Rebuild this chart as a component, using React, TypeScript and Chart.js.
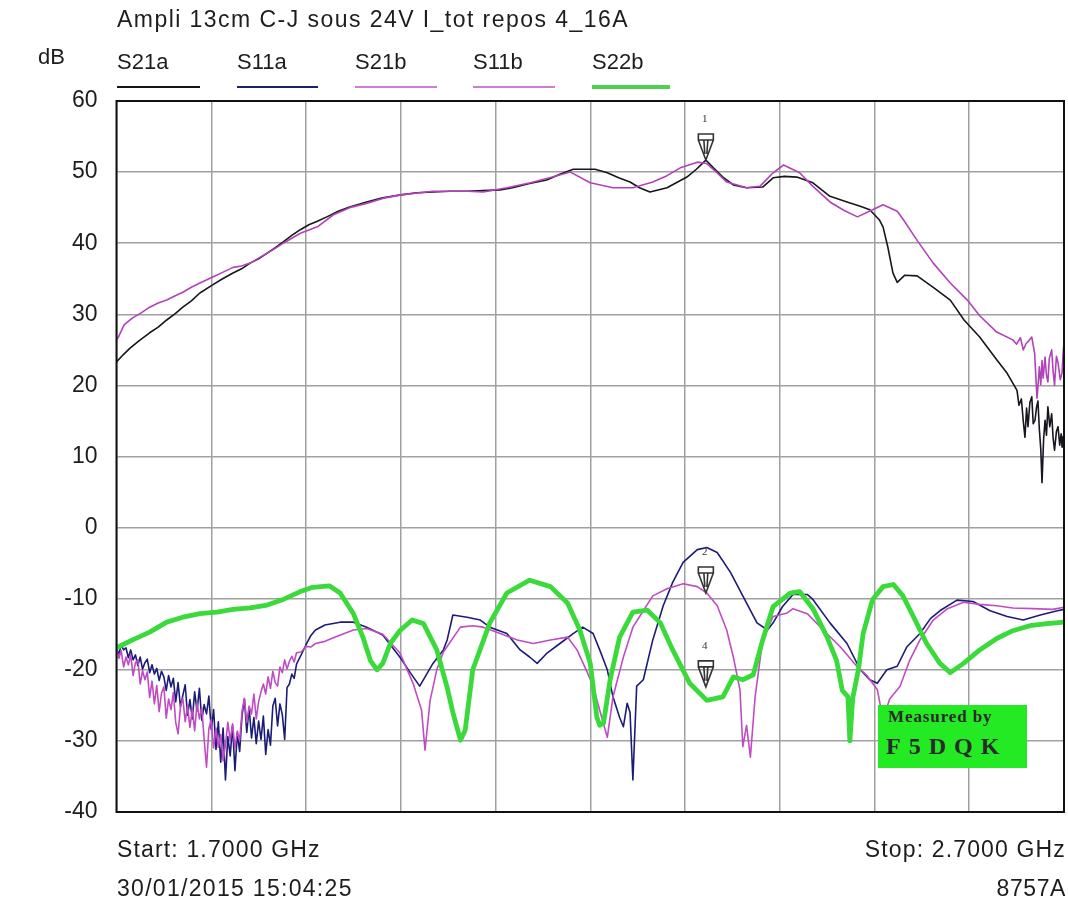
import React, { useEffect, useRef } from "react";
import { Chart, registerables } from "chart.js";
Chart.register(...registerables);

const titleText = "Ampli 13cm C-J sous 24V I_tot repos 4_16A";
const yUnit = "dB";
const seriesNames = ["S21a", "S11a", "S21b", "S11b", "S22b"];
const seriesColors = ["#16161e", "#1c1c78", "#b242ba", "#c04cc4", "#3ada3a"];
const legendColors = ["#161616", "#1f1f72", "#cf7fd3", "#cf7fd3", "#4fcf4f"];
const seriesWidths = [1.6, 1.6, 1.6, 1.6, 4.8];
const xMin = 1.7;
const xMax = 2.7;
const xStep = 0.1;
const yMin = -40;
const yMax = 60;
const yStep = 10;
const startLabel = "Start: 1.7000 GHz";
const stopLabel = "Stop: 2.7000 GHz";
const dateLabel = "30/01/2015 15:04:25";
const modelLabel = "8757A";
const stampLine1 = "Measured by";
const stampLine2 = "F5DQK";

const markerFreq = 2.322;
const markerValues = [51.7, -9.2, -22.4];
const markerLabels = ["1", "2", "4"];

// S21a (black, upper)
const s21aFreq = [1.700, 1.707, 1.714, 1.724, 1.735, 1.744, 1.753, 1.762, 1.770, 1.779, 1.788, 1.801, 1.812, 1.823, 1.832, 1.841, 1.850, 1.859, 1.868, 1.876, 1.885, 1.894, 1.903, 1.912, 1.922, 1.934, 1.946, 1.964, 1.981, 2.000, 2.017, 2.034, 2.052, 2.070, 2.087, 2.105, 2.118, 2.136, 2.154, 2.168, 2.182, 2.205, 2.218, 2.230, 2.242, 2.252, 2.263, 2.281, 2.302, 2.312, 2.319, 2.322, 2.330, 2.340, 2.351, 2.365, 2.382, 2.393, 2.405, 2.418, 2.435, 2.453, 2.471, 2.485, 2.495, 2.505, 2.509, 2.514, 2.5195, 2.524, 2.532, 2.545, 2.562, 2.580, 2.5945, 2.611, 2.629, 2.640, 2.6504, 2.6525, 2.6550, 2.6570, 2.6588, 2.6605, 2.6620, 2.6640, 2.6660, 2.6675, 2.6694, 2.6710, 2.6725, 2.6740, 2.6755, 2.6768, 2.6785, 2.6800, 2.6815, 2.6830, 2.6850, 2.6870, 2.6885, 2.6900, 2.6920, 2.6937, 2.6955, 2.6970, 2.6980, 2.6990, 2.7000];
const s21aDb = [23.3, 24.3, 25.2, 26.3, 27.4, 28.2, 29.2, 30.1, 31.0, 31.9, 33.0, 34.1, 35.0, 35.8, 36.4, 37.2, 37.8, 38.6, 39.4, 40.2, 41.1, 41.9, 42.6, 43.1, 43.7, 44.5, 45.1, 45.8, 46.4, 46.8, 47.1, 47.2, 47.3, 47.3, 47.4, 47.5, 47.8, 48.4, 48.9, 49.7, 50.4, 50.4, 49.9, 49.2, 48.6, 47.8, 47.2, 47.8, 49.3, 50.4, 51.3, 51.7, 50.6, 49.3, 48.2, 47.8, 47.9, 49.2, 49.4, 49.3, 48.5, 46.6, 45.8, 45.2, 44.7, 43.3, 42.3, 39.5, 35.8, 34.5, 35.5, 35.4, 33.8, 32.0, 29.2, 26.8, 23.6, 21.7, 19.3, 17.2, 18.1, 15.0, 12.7, 16.8, 14.2, 17.6, 18.4, 14.6, 15.1, 16.9, 17.8, 13.8, 11.0, 6.3, 12.5, 15.1, 13.0, 17.0, 14.2, 16.0, 12.6, 10.9, 13.5, 14.2, 11.6, 13.2, 11.3, 12.8, 13.0];

// S11a (navy, lower)
const s11aFreq = [1.7000, 1.7025, 1.7050, 1.7075, 1.7100, 1.7125, 1.7150, 1.7175, 1.7200, 1.7225, 1.7250, 1.7275, 1.7300, 1.7325, 1.7350, 1.7375, 1.7400, 1.7425, 1.7450, 1.7475, 1.7500, 1.7525, 1.7550, 1.7575, 1.7600, 1.7625, 1.7650, 1.7675, 1.7700, 1.7725, 1.7750, 1.7775, 1.7800, 1.7825, 1.7850, 1.7875, 1.7900, 1.7925, 1.7950, 1.7975, 1.8000, 1.8025, 1.8050, 1.8075, 1.8100, 1.8125, 1.8150, 1.8175, 1.8200, 1.8225, 1.8250, 1.8275, 1.8300, 1.8325, 1.8350, 1.8375, 1.8400, 1.8425, 1.8450, 1.8475, 1.8500, 1.8525, 1.8550, 1.8575, 1.8600, 1.8625, 1.8650, 1.8675, 1.8700, 1.8725, 1.8750, 1.8775, 1.8800, 1.8825, 1.8850, 1.8875, 1.8900, 1.896, 1.900, 1.905, 1.910, 1.920, 1.936, 1.950, 1.964, 1.981, 1.999, 2.010, 2.020, 2.034, 2.045, 2.049, 2.055, 2.070, 2.084, 2.094, 2.112, 2.126, 2.136, 2.144, 2.154, 2.168, 2.182, 2.192, 2.203, 2.210, 2.218, 2.224, 2.231, 2.235, 2.239, 2.242, 2.245, 2.249, 2.256, 2.266, 2.277, 2.287, 2.298, 2.313, 2.323, 2.334, 2.348, 2.361, 2.376, 2.387, 2.393, 2.403, 2.414, 2.429, 2.435, 2.453, 2.471, 2.485, 2.495, 2.503, 2.513, 2.524, 2.534, 2.548, 2.559, 2.569, 2.587, 2.604, 2.622, 2.640, 2.657, 2.675, 2.693, 2.700];
const s11aDb = [-17.0, -17.8, -16.5, -17.2, -16.9, -18.3, -17.2, -18.6, -17.9, -19.4, -18.2, -19.9, -19.0, -18.5, -20.4, -19.3, -20.6, -19.8, -21.5, -20.2, -21.0, -22.9, -20.8, -22.4, -21.2, -24.5, -21.8, -25.2, -23.6, -22.1, -26.4, -24.2, -26.9, -23.1, -25.8, -22.6, -27.1, -24.9, -26.2, -23.7, -28.4, -25.6, -31.2, -27.3, -33.0, -28.2, -35.5, -29.4, -32.1, -27.8, -34.2, -29.0, -31.5, -26.4, -24.1, -28.8, -25.3, -29.6, -26.7, -30.4, -27.2, -29.8, -26.5, -31.9, -28.4, -30.6, -25.1, -24.0, -27.9, -24.8, -26.3, -29.8, -22.5, -22.0, -20.6, -21.2, -19.2, -17.6, -16.5, -15.2, -14.4, -13.7, -13.3, -13.3, -14.0, -15.1, -18.2, -20.4, -22.3, -19.1, -17.2, -15.8, -12.3, -12.6, -13.0, -14.0, -14.9, -17.2, -18.2, -19.1, -17.7, -16.3, -14.9, -14.0, -14.9, -17.2, -20.0, -23.8, -26.7, -28.0, -24.7, -26.0, -35.5, -22.3, -21.4, -15.8, -11.0, -7.7, -4.9, -3.1, -2.8, -3.5, -6.3, -9.6, -13.4, -14.4, -13.4, -11.1, -9.4, -9.4, -10.1, -13.4, -16.3, -20.0, -21.4, -21.9, -20.0, -19.5, -16.8, -14.9, -12.8, -11.7, -10.2, -10.4, -11.7, -12.5, -13.0, -12.3, -11.7, -11.5];

// S21b (magenta, upper)
const s21bFreq = [1.700, 1.702, 1.708, 1.717, 1.726, 1.735, 1.744, 1.753, 1.762, 1.770, 1.779, 1.788, 1.801, 1.812, 1.823, 1.832, 1.841, 1.850, 1.859, 1.868, 1.876, 1.885, 1.894, 1.912, 1.929, 1.946, 1.964, 1.981, 2.000, 2.034, 2.070, 2.087, 2.112, 2.137, 2.160, 2.179, 2.200, 2.224, 2.245, 2.266, 2.281, 2.295, 2.313, 2.323, 2.334, 2.344, 2.365, 2.379, 2.393, 2.404, 2.421, 2.435, 2.453, 2.468, 2.482, 2.498, 2.509, 2.524, 2.530, 2.545, 2.562, 2.580, 2.598, 2.611, 2.629, 2.646, 2.650, 2.654, 2.657, 2.660, 2.663, 2.666, 2.669, 2.6715, 2.6725, 2.674, 2.6755, 2.6768, 2.678, 2.680, 2.6815, 2.683, 2.6845, 2.687, 2.6885, 2.690, 2.692, 2.6937, 2.696, 2.698, 2.699, 2.700];
const s21bDb = [26.4, 26.8, 28.5, 29.5, 30.2, 31.0, 31.6, 32.0, 32.6, 33.1, 33.8, 34.4, 35.2, 35.9, 36.6, 36.8, 37.2, 37.9, 38.6, 39.3, 40.0, 40.7, 41.4, 42.3, 44.0, 45.0, 45.6, 46.3, 46.8, 47.3, 47.3, 47.2, 47.8, 48.5, 49.3, 50.0, 48.5, 47.8, 47.8, 48.6, 49.5, 50.6, 51.4, 51.2, 49.9, 48.6, 47.8, 48.0, 49.9, 51.0, 49.9, 48.0, 45.8, 44.6, 43.7, 44.7, 45.4, 44.5, 43.4, 40.4, 37.2, 34.4, 32.0, 29.8, 27.5, 26.4, 25.8, 26.7, 25.0, 25.9, 26.3, 26.8, 24.5, 18.2, 19.8, 22.6, 20.1, 23.5, 21.0, 24.0, 21.4, 20.5, 23.8, 25.0, 22.0, 20.0, 24.1, 23.2, 20.8, 21.8, 24.5, 26.0];

// S11b (magenta, lower)
const s11bFreq = [1.7000, 1.7025, 1.7050, 1.7075, 1.7100, 1.7125, 1.7150, 1.7175, 1.7200, 1.7225, 1.7250, 1.7275, 1.7300, 1.7325, 1.7350, 1.7375, 1.7400, 1.7425, 1.7450, 1.7475, 1.7500, 1.7525, 1.7550, 1.7575, 1.7600, 1.7625, 1.7650, 1.7675, 1.7700, 1.7725, 1.7750, 1.7775, 1.7800, 1.7825, 1.7850, 1.7875, 1.7900, 1.7925, 1.7950, 1.7975, 1.8000, 1.8025, 1.8050, 1.8075, 1.8100, 1.8125, 1.8150, 1.8175, 1.8200, 1.8225, 1.8250, 1.8275, 1.8300, 1.8325, 1.8350, 1.8375, 1.8400, 1.8425, 1.8450, 1.8475, 1.8500, 1.8525, 1.8550, 1.8575, 1.8600, 1.8625, 1.8650, 1.8675, 1.8700, 1.8725, 1.8750, 1.8775, 1.8800, 1.8825, 1.8850, 1.8875, 1.8900, 1.8950, 1.9000, 1.905, 1.910, 1.920, 1.931, 1.950, 1.964, 1.981, 1.999, 2.013, 2.022, 2.0256, 2.031, 2.038, 2.045, 2.063, 2.076, 2.087, 2.105, 2.123, 2.140, 2.158, 2.176, 2.186, 2.197, 2.203, 2.210, 2.218, 2.224, 2.235, 2.245, 2.256, 2.266, 2.281, 2.298, 2.313, 2.323, 2.334, 2.344, 2.351, 2.358, 2.361, 2.365, 2.369, 2.374, 2.382, 2.393, 2.408, 2.414, 2.429, 2.446, 2.464, 2.482, 2.492, 2.503, 2.509, 2.516, 2.527, 2.537, 2.548, 2.562, 2.577, 2.594, 2.611, 2.629, 2.646, 2.667, 2.688, 2.700];
const s11bDb = [-17.0, -18.4, -17.3, -19.6, -18.2, -19.3, -17.9, -20.8, -19.0, -18.6, -22.0, -20.1, -21.4, -20.3, -23.9, -21.6, -24.8, -22.2, -25.9, -23.3, -22.4, -26.8, -24.1, -25.6, -23.2, -27.4, -29.0, -25.2, -24.0, -27.3, -25.1, -28.1, -25.5, -28.6, -24.6, -26.9, -25.3, -29.7, -33.7, -28.3, -27.0, -31.0, -28.2, -30.9, -29.1, -32.8, -30.6, -27.4, -29.9, -27.6, -31.0, -28.6, -29.9, -25.8, -24.0, -27.4, -25.1, -26.2, -23.4, -26.9, -24.5, -23.1, -22.0, -23.4, -21.0, -22.6, -20.2, -21.8, -22.3, -19.6, -20.4, -18.6, -19.9, -18.8, -18.1, -18.9, -17.6, -17.5, -16.7, -16.8, -16.3, -16.0, -15.4, -14.4, -14.2, -15.0, -17.6, -21.9, -25.7, -31.3, -24.3, -20.0, -17.5, -14.0, -13.8, -14.0, -14.9, -15.8, -16.3, -15.8, -15.4, -17.2, -20.4, -22.3, -25.7, -29.5, -23.8, -18.2, -14.0, -11.7, -9.6, -8.6, -7.9, -8.3, -9.2, -11.0, -14.4, -18.2, -22.8, -30.8, -27.8, -32.3, -23.8, -15.8, -12.5, -12.0, -11.4, -12.1, -14.4, -16.8, -19.6, -20.8, -22.8, -27.0, -24.1, -22.3, -18.7, -15.8, -13.0, -11.4, -10.5, -10.8, -11.0, -11.3, -11.4, -11.5, -11.2];

// S22b (green)
const s22bFreq = [1.700, 1.717, 1.735, 1.753, 1.770, 1.788, 1.806, 1.823, 1.841, 1.859, 1.876, 1.894, 1.907, 1.925, 1.936, 1.950, 1.960, 1.968, 1.975, 1.981, 1.989, 1.999, 2.012, 2.024, 2.038, 2.049, 2.055, 2.063, 2.068, 2.076, 2.094, 2.112, 2.136, 2.158, 2.176, 2.189, 2.200, 2.207, 2.210, 2.214, 2.221, 2.231, 2.245, 2.260, 2.274, 2.287, 2.305, 2.323, 2.340, 2.351, 2.361, 2.372, 2.382, 2.393, 2.411, 2.421, 2.435, 2.450, 2.460, 2.466, 2.472, 2.474, 2.477, 2.483, 2.488, 2.498, 2.509, 2.520, 2.530, 2.541, 2.555, 2.569, 2.580, 2.594, 2.611, 2.629, 2.646, 2.664, 2.682, 2.700];
const s22bDb = [-16.9, -15.8, -14.7, -13.3, -12.6, -12.1, -11.9, -11.5, -11.3, -10.9, -10.1, -9.0, -8.4, -8.2, -9.2, -12.1, -15.4, -18.7, -20.0, -19.1, -16.3, -14.5, -13.0, -13.5, -17.2, -22.5, -26.0, -29.9, -28.5, -20.0, -13.4, -9.2, -7.4, -8.3, -10.6, -14.4, -19.1, -26.7, -27.8, -27.5, -21.4, -15.4, -11.9, -11.6, -13.4, -17.2, -21.9, -24.3, -23.8, -21.0, -21.4, -20.7, -15.8, -11.1, -9.2, -9.0, -11.4, -15.4, -18.7, -22.9, -23.8, -30.0, -24.0, -20.0, -14.9, -10.1, -8.3, -8.0, -9.6, -12.5, -16.3, -19.1, -20.4, -19.1, -17.2, -15.6, -14.5, -13.8, -13.5, -13.3];

const seriesFreqs = [s21aFreq, s11aFreq, s21bFreq, s11bFreq, s22bFreq];
const seriesValues = [s21aDb, s11aDb, s21bDb, s11bDb, s22bDb];
const seriesOrder = [3, 4, 2, 1, 0];

const FONT = '"Liberation Sans", Arial, Helvetica, sans-serif';
const TEXT_SIZE = 23;

const frameAndMarkers = {
  id: "frameAndMarkers",
  afterDatasetsDraw(chart: any) {
    const { ctx, chartArea } = chart;
    const xs = chart.scales.x;
    const ys = chart.scales.y;
    ctx.save();
    ctx.strokeStyle = "#111";
    ctx.lineWidth = 2;
    ctx.strokeRect(chartArea.left, chartArea.top, chartArea.right - chartArea.left, chartArea.bottom - chartArea.top);
    markerValues.forEach((v, i) => {
      const px = xs.getPixelForValue(markerFreq);
      const py = ys.getPixelForValue(v);
      const w = 15;
      const top = py - 26;
      ctx.strokeStyle = "#333";
      ctx.lineWidth = 1.6;
      ctx.beginPath();
      ctx.rect(px - w / 2, top, w, 6);
      ctx.moveTo(px - w / 2, top + 6);
      ctx.lineTo(px, py);
      ctx.lineTo(px + w / 2, top + 6);
      ctx.moveTo(px - 2, top + 6);
      ctx.lineTo(px - 1, py - 6);
      ctx.moveTo(px + 2, top + 6);
      ctx.lineTo(px + 1, py - 6);
      ctx.stroke();
      ctx.fillStyle = "#333";
      ctx.font = '11px "Liberation Serif", serif';
      ctx.textAlign = "center";
      ctx.textBaseline = "middle";
      ctx.fillText(markerLabels[i], px - 1, top - 15);
    });
    ctx.restore();
  },
};

function ChartCanvas() {
  const ref = useRef<HTMLCanvasElement | null>(null);
  useEffect(() => {
    if (!ref.current) return;
    const datasets = seriesNames.map((name, i) => ({
      label: name,
      data: seriesFreqs[i].map((f, j) => ({ x: f, y: seriesValues[i][j] })),
      borderColor: seriesColors[i],
      backgroundColor: seriesColors[i],
      borderWidth: seriesWidths[i],
      pointRadius: 0,
      tension: 0,
      order: seriesOrder[i],
      borderJoinStyle: "round" as const,
    }));
    const grid = { color: "#a0a0a0", lineWidth: 1.5, drawTicks: false };
    const chart = new Chart(ref.current, {
      type: "line",
      data: { datasets },
      options: {
        animation: false,
        responsive: false,
        devicePixelRatio: 1,
        layout: { padding: { top: 101, right: 4, left: 0, bottom: 0 } },
        plugins: { legend: { display: false }, tooltip: { enabled: false }, title: { display: false } },
        scales: {
          x: {
            type: "linear",
            min: xMin,
            max: xMax,
            ticks: { display: false, stepSize: xStep },
            grid,
            border: { display: false },
            afterFit: (axis: any) => {
              axis.height = 90;
            },
          },
          y: {
            type: "linear",
            min: yMin,
            max: yMax,
            ticks: { stepSize: yStep, padding: 19, color: "#1d1d1d", font: { family: FONT, size: TEXT_SIZE } },
            grid,
            border: { display: false },
            afterFit: (axis: any) => {
              axis.width = 116.5;
            },
          },
        },
      },
      plugins: [frameAndMarkers],
    });
    return () => chart.destroy();
  }, []);
  return <canvas ref={ref} width={1068} height={902} style={{ position: "absolute", left: 0, top: 0, width: 1068, height: 902 }} />;
}

const legendX = [117, 237, 355, 473, 592];
const legendLineW = [83, 81, 82, 82, 78];

export default function App() {
  const txt = (content: string, left: number | null, right: number | null, cy: number, extra: any = {}) => (
    <div
      style={{
        position: "absolute",
        left: left ?? undefined,
        right: right ?? undefined,
        top: cy - 13,
        height: 26,
        lineHeight: "26px",
        fontFamily: FONT,
        fontSize: TEXT_SIZE,
        color: "#1d1d1d",
        whiteSpace: "nowrap",
        ...extra,
      }}
    >
      {content}
    </div>
  );
  return (
    <div style={{ position: "absolute", left: 0, top: 0, width: 1068, height: 902, background: "#fff", overflow: "hidden" }}>
      <ChartCanvas />
      {txt(titleText, 117, null, 19, { letterSpacing: 1.45 })}
      {txt(yUnit, 38, null, 57, { fontSize: 22 })}
      {seriesNames.map((n, i) => (
        <React.Fragment key={n}>
          {txt(n, legendX[i], null, 62, { fontSize: 22 })}
          <div
            style={{
              position: "absolute",
              left: legendX[i],
              top: i === 4 ? 85 : 86,
              width: legendLineW[i],
              height: i === 4 ? 4 : 2,
              background: legendColors[i],
            }}
          />
        </React.Fragment>
      ))}
      {txt(startLabel, 117, null, 849, { letterSpacing: 1.15 })}
      {txt(stopLabel, null, 1068 - 1066, 849, { letterSpacing: 1.15 })}
      {txt(dateLabel, 117, null, 888, { letterSpacing: 1.3 })}
      {txt(modelLabel, null, 1068 - 1066, 888, { letterSpacing: 0.6 })}
      <div
        style={{
          position: "absolute",
          left: 878,
          top: 705,
          width: 149,
          height: 63,
          background: "#24ea24",
          fontFamily: '"Liberation Serif", "Times New Roman", serif',
          color: "#2a2a2a",
          fontWeight: "bold",
        }}
      >
        <div style={{ position: "absolute", left: 10, top: 2, fontSize: 17, letterSpacing: 0.9 }}>{stampLine1}</div>
        <div style={{ position: "absolute", left: 8, top: 28, fontSize: 24, letterSpacing: 8 }}>{stampLine2}</div>
      </div>
    </div>
  );
}
